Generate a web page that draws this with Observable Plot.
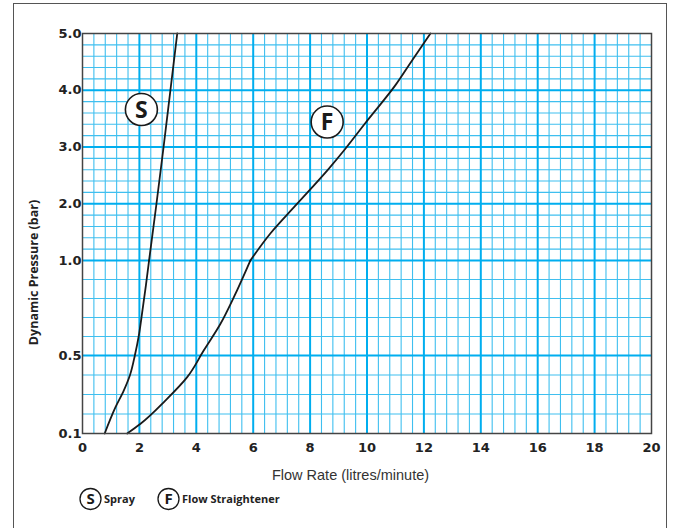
<!DOCTYPE html>
<html>
<head>
<meta charset="utf-8">
<script src="https://cdn.jsdelivr.net/npm/d3@7"></script>
<script src="https://cdn.jsdelivr.net/npm/@observablehq/plot@0.6"></script>
<style>
  html, body { margin: 0; padding: 0; background: #fff; }
  #wrap { position: relative; width: 673px; height: 528px; overflow: hidden; }
  #border { position: absolute; left: 13px; top: 3px; width: 652px; height: 600px; border: 1.5px solid #555; }
  #chart { position: absolute; left: 0; top: 0; }
  #legend { position: absolute; left: 0; top: 0; }
</style>
</head>
<body>
<div id="wrap"><div id="border"></div><div id="chart"></div><svg id="legend" width="673" height="528"></svg></div>
<script>
// Data
const sprayFlow     = [0.78, 1.16, 1.45, 1.67, 1.84, 1.99, 2.11, 2.23, 2.34, 2.60, 2.85, 3.09, 3.33];
const sprayPressure = [0.10, 0.235, 0.32, 0.40, 0.50, 0.614, 0.74, 0.87, 1.00, 2.00, 3.00, 4.00, 5.00];
const flowFlow      = [1.57, 2.04, 2.92, 3.68, 4.26, 4.85, 5.32, 5.90, 6.61, 7.49, 8.66, 9.24, 9.97, 11.00, 11.59, 12.23];
const flowPressure  = [0.10, 0.15, 0.27, 0.389, 0.526, 0.667, 0.807, 1.00, 1.48, 1.97, 2.62, 2.97, 3.44, 4.09, 4.53, 5.00];

const xTicks = [0, 2, 4, 6, 8, 10, 12, 14, 16, 18, 20];
const yTicks = [0.1, 0.5, 1.0, 2.0, 3.0, 4.0, 5.0];
const yMajorGrid = [0.5, 1, 2, 3, 4];
const yMinorGrid = [0.2, 0.3, 0.4, 0.6, 0.7, 0.8, 0.9, 1.2, 1.4, 1.6, 1.8, 2.2, 2.4, 2.6, 2.8, 3.2, 3.4, 3.6, 3.8, 4.2, 4.4, 4.6, 4.8];
const xMajorGrid = [2, 4, 6, 8, 10, 12, 14, 16, 18];
const xMinorGrid = d3.range(1, 50).map(i => +(i * 0.4).toFixed(1)).filter(v => Math.abs(v / 2 - Math.round(v / 2)) > 1e-6);

const curveLetters = ["S", "F"];
const letterFlow = [2.07, 8.60];
const letterPressure = [3.66, 3.44];

const xLabel = "Flow Rate (litres/minute)";
const yLabel = "Dynamic Pressure (bar)";
const legendKeys = ["S", "F"];
const legendNames = ["Spray", "Flow Straightener"];

const spray = sprayFlow.map((x, i) => ({x, y: sprayPressure[i]}));
const flow = flowFlow.map((x, i) => ({x, y: flowPressure[i]}));
const letters = curveLetters.map((t, i) => ({t, x: letterFlow[i], y: letterPressure[i]}));

const tickFont = "'DejaVu Sans', sans-serif";
const textFont = "'Open Sans', 'DejaVu Sans', sans-serif";
const major = "#00aeef", minor = "#3fbfef";
const ink = "#1a1a1a";

const low = d => d.y <= 1, high = d => d.y >= 1;
const curveOpts = {x: "x", y: "y", stroke: ink, strokeWidth: 1.8, curve: "monotone-y"};

const plot = Plot.plot({
  width: 673,
  height: 528,
  marginLeft: 82,
  marginRight: 22,
  marginTop: 33,
  marginBottom: 95,
  style: {background: "transparent", overflow: "visible", fontSize: "13px", fontWeight: "bold", fontFamily: tickFont, color: "#222"},
  x: {domain: [0, 20]},
  y: {type: "linear", domain: [0.1, 0.5, 1, 5], range: [433, 355, 260, 33]},
  marks: [
    Plot.ruleX(xMinorGrid, {stroke: minor, strokeWidth: 1.1}),
    Plot.ruleY(yMinorGrid, {stroke: minor, strokeWidth: 1.1}),
    Plot.ruleX(xMajorGrid, {stroke: major, strokeWidth: 2}),
    Plot.ruleY(yMajorGrid, {stroke: major, strokeWidth: 2}),
    Plot.line(spray.filter(low), curveOpts),
    Plot.line(spray.filter(high), curveOpts),
    Plot.line(flow.filter(low), curveOpts),
    Plot.line(flow.filter(high), curveOpts),
    Plot.frame({stroke: "#444", strokeWidth: 1.5}),
    Plot.dot(letters, {x: "x", y: "y", r: 16, fill: "white", stroke: ink, strokeWidth: 1.6}),
    Plot.text(letters, {x: "x", y: "y", text: "t", fontSize: 23, fontWeight: "bold", fontFamily: textFont, fill: ink, dy: 1}),
    Plot.axisX({ticks: xTicks, tickSize: 0, tickPadding: 9, tickFormat: d => String(d), label: null}),
    Plot.axisY({ticks: yTicks, tickSize: 0, tickPadding: 1, tickFormat: d => d.toFixed(1), label: null})
  ]
});
document.getElementById("chart").appendChild(plot);

// Axis titles and legend
const lg = d3.select("#legend");
lg.append("text").attr("x", 350.5).attr("y", 480).attr("text-anchor", "middle")
  .style("font", "14.5px 'Liberation Sans', Arial, sans-serif").attr("fill", "#333").text(xLabel);
lg.append("text").attr("transform", "translate(38,272.5) rotate(-90)").attr("text-anchor", "middle")
  .style("font", `bold 12.5px ${textFont}`).attr("fill", "#222").text(yLabel);

const legendX = [90.5, 168.5];
legendKeys.forEach((k, i) => {
  const g = lg.append("g").attr("transform", `translate(${legendX[i]},499)`);
  g.append("circle").attr("r", 10.5).attr("fill", "white").attr("stroke", ink).attr("stroke-width", 1.3);
  g.append("text").attr("text-anchor", "middle").attr("dy", "0.36em")
    .style("font", `bold 15px ${textFont}`).attr("fill", ink).text(k);
  g.append("text").attr("x", 13.5).attr("dy", "0.36em")
    .style("font", `bold 11px ${textFont}`).attr("fill", "#222").text(legendNames[i]);
});
</script>
</body>
</html>
